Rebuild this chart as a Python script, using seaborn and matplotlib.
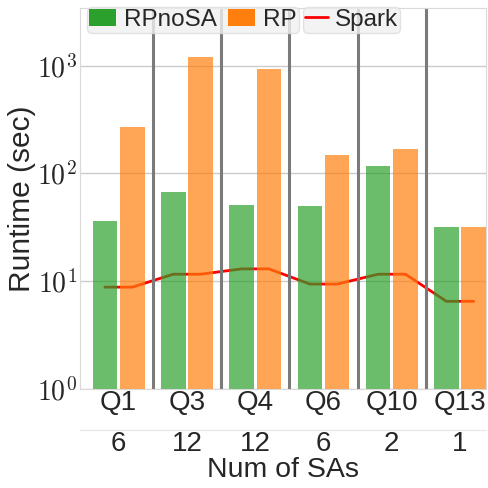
import numpy as np
import pandas as pd
import matplotlib
matplotlib.use("Agg")
import matplotlib.pyplot as plt
import seaborn as sns
from matplotlib.patches import Patch
from matplotlib.lines import Line2D
from matplotlib.ticker import FixedLocator, FuncFormatter, NullLocator

queries = ["Q1", "Q3", "Q4", "Q6", "Q10", "Q13"]
rpnosa = [36.0, 67, 50.8, 49.7, 117, 31.7]
rp = [269, 1205, 930, 148, 168, 31.7]
spark = [8.8, 11.6, 13.0, 9.4, 11.6, 6.5]
num_sas = [6, 12, 12, 6, 2, 1]
systems = ["RPnoSA", "RP"]

sns.set_style("whitegrid", {"axes.edgecolor": ".85", "grid.color": ".8"})
plt.rcParams["font.family"] = ["Liberation Sans", "DejaVu Sans"]
plt.rcParams["mathtext.fontset"] = "cm"

green = "#2ca02c"
orange = "#ff7f0e"

df = pd.DataFrame({
    "query": queries * 2,
    "runtime": rpnosa + rp,
    "system": ["RPnoSA"] * len(queries) + ["RP"] * len(queries),
})

fig = plt.figure(figsize=(4.88, 4.88), dpi=100)
ax = fig.add_axes([0.164, 0.203, 0.832, 0.781])

sns.barplot(data=df, x="query", y="runtime", hue="system", hue_order=systems,
            palette=[green, orange], saturation=1, alpha=0.7, width=0.8, gap=0.1,
            linewidth=0, ax=ax, legend=False, zorder=2)
ax.set_yscale("log")

# Spark line spanning each pair of bars
idx = np.arange(len(queries))
sx = np.ravel(np.column_stack([idx - 0.2, idx + 0.2]))
sy = np.ravel(np.column_stack([spark, spark]))
sns.lineplot(x=sx, y=sy, sort=False, color="red", linewidth=2, ax=ax, zorder=1.5)

for b in idx[:-1] + 0.5:
    ax.axvline(b, color="#7a7a7a", linewidth=2.2, zorder=1.8)

ax.set_ylim(1, 3440)
ax.set_xlim(-0.565, 5.38)
ax.set_axisbelow(True)
ax.grid(False, axis="x")
ax.grid(True, axis="y", color=".8", linewidth=1)
ax.yaxis.set_minor_locator(NullLocator())
ax.yaxis.set_major_locator(FixedLocator([1, 10, 100, 1000]))
ax.yaxis.set_major_formatter(FuncFormatter(lambda v, p: r"$\mathrm{10^{%d}}$" % int(round(np.log10(v)))))
ax.tick_params(axis="y", labelsize=20, length=0, pad=2)
ax.tick_params(axis="x", labelsize=20, length=0, pad=1)
ax.set_xlabel("")
ax.set_ylabel("Runtime (sec)", fontsize=21.5, labelpad=1)
for s in ax.spines.values():
    s.set_color(".85")

sec = ax.secondary_xaxis(-0.108)
sec.set_xticks(list(idx))
sec.set_xticklabels([str(n) for n in num_sas])
sec.tick_params(length=0, labelsize=20, pad=1)
sec.set_xlabel("Num of SAs", fontsize=20.5, labelpad=0)
sec.spines["bottom"].set_color(".9")

h1 = [Patch(facecolor=green, edgecolor="none"), Patch(facecolor=orange, edgecolor="none")]
leg1 = ax.legend(h1, systems, ncol=2, loc="upper left", bbox_to_anchor=(0.017, 1.002),
                 borderaxespad=0, fontsize=17.5, handlelength=1.1, handleheight=0.69,
                 handletextpad=0.34, columnspacing=0.48, borderpad=0.08,
                 frameon=True, framealpha=0.8, facecolor="#f0f0f0", edgecolor="#dddddd")
ax.add_artist(leg1)
h2 = [Line2D([0], [0], color="red", linewidth=2)]
ax.legend(h2, ["Spark"], loc="upper left", bbox_to_anchor=(0.549, 1.002),
          borderaxespad=0, fontsize=17.5, handlelength=0.96, handletextpad=0.27,
          borderpad=0.08, frameon=True, framealpha=0.8,
          facecolor="#f0f0f0", edgecolor="#dddddd")

fig.savefig("out.png", dpi=100)
